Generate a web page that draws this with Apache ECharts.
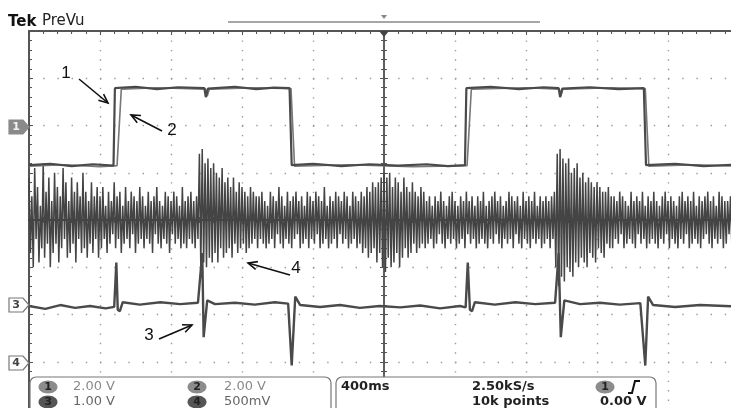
<!DOCTYPE html>
<html>
<head>
<meta charset="utf-8">
<script src="https://cdn.jsdelivr.net/npm/echarts@6/dist/echarts.min.js"></script>
<style>
html, body { margin: 0; padding: 0; background: #fff; }
#scope { width: 731px; height: 408px; }
</style>
</head>
<body>
<div id="scope"></div>
<script>
// screen is 10 x 8 divisions, x in divisions from centre (400ms/div), y in divisions
const timeDivs = [-5, 5]
const voltDivs = [-4, 4]

// channel 1: two captures, one with a sharp edge and one slower
const ch1Fast = [
  [-5.00, 1.16], [-4.70, 1.19], [-4.40, 1.14], [-4.10, 1.18], [-3.81, 1.15], [-3.79, 2.79],
  [-3.50, 2.82], [-3.20, 2.77], [-2.90, 2.81], [-2.53, 2.79], [-2.51, 2.60], [-2.48, 2.78],
  [-2.10, 2.82], [-1.80, 2.77], [-1.55, 2.80], [-1.33, 2.79], [-1.30, 1.16], [-1.00, 1.19],
  [-0.60, 1.14], [-0.20, 1.18], [0.20, 1.15], [0.60, 1.18], [0.90, 1.14], [1.14, 1.16],
  [1.16, 2.79], [1.50, 2.82], [1.90, 2.77], [2.25, 2.81], [2.46, 2.79], [2.48, 2.60],
  [2.51, 2.78], [2.90, 2.81], [3.30, 2.77], [3.66, 2.79], [3.69, 1.16], [4.10, 1.19],
  [4.50, 1.14], [4.96, 1.17]
]
const ch1Slow = [
  [-5.00, 1.14], [-4.50, 1.17], [-4.00, 1.13], [-3.76, 1.15], [-3.70, 2.77], [-3.20, 2.80],
  [-2.51, 2.77], [-2.49, 2.62], [-2.46, 2.77], [-1.80, 2.80], [-1.31, 2.78], [-1.26, 1.14],
  [-0.50, 1.17], [0.40, 1.13], [1.17, 1.15], [1.23, 2.77], [2.00, 2.80], [2.47, 2.77],
  [2.49, 2.62], [2.52, 2.77], [3.20, 2.80], [3.68, 2.78], [3.73, 1.14], [4.40, 1.17],
  [4.96, 1.14]
]
// channel 3
const ch3Trace = [
  [-5.00, -1.82], [-4.77, -1.88], [-4.56, -1.80], [-4.35, -1.86], [-4.14, -1.82], [-3.92, -1.87],
  [-3.80, -1.84], [-3.77, -0.90], [-3.75, -1.90], [-3.72, -1.93], [-3.68, -1.74], [-3.44, -1.79],
  [-3.15, -1.74], [-2.87, -1.78], [-2.62, -1.75], [-2.56, -0.70], [-2.54, -2.48], [-2.49, -1.70],
  [-2.38, -1.78], [-2.10, -1.75], [-1.82, -1.79], [-1.54, -1.74], [-1.35, -1.77], [-1.30, -3.08],
  [-1.25, -1.62], [-1.18, -1.80], [-0.90, -1.84], [-0.62, -1.80], [-0.34, -1.86], [-0.06, -1.82],
  [0.23, -1.85], [0.51, -1.81], [0.79, -1.87], [1.07, -1.82], [1.15, -1.85], [1.18, -0.90],
  [1.21, -1.90], [1.24, -1.93], [1.28, -1.74], [1.56, -1.79], [1.85, -1.74], [2.13, -1.78],
  [2.41, -1.75], [2.46, -0.70], [2.49, -2.48], [2.54, -1.70], [2.76, -1.78], [3.04, -1.75],
  [3.32, -1.79], [3.61, -1.76], [3.68, -3.08], [3.72, -1.62], [3.79, -1.80], [4.10, -1.84],
  [4.45, -1.80], [4.96, -1.83]
]
// channel 4 noise, one sample every 0.02 div starting at the left edge
const ch4Step = 0.02
const ch4Noise = [
  0.9, -0.7, 0.5, -1.0, 1.1, -0.4, 0.7, -0.9, 0.3, -0.6,
  1.2, -0.8, 0.6, -0.5, 0.9, -1.0, 0.4, -0.7, 1.0, -0.5,
  0.7, -0.9, 0.5, -0.6, 1.1, -0.4, 0.8, -0.8, 0.4, -0.7,
  0.9, -0.5, 0.6, -0.9, 0.8, -0.4, 0.5, -0.7, 1.0, -0.6,
  0.6, -0.8, 0.4, -0.5, 0.8, -0.7, 0.5, -0.4, 0.7, -0.8,
  0.5, -0.6, 0.7, -0.4, 0.3, -0.7, 0.6, -0.5, 0.4, -0.3,
  0.8, -0.6, 0.5, -0.4, 0.6, -0.7, 0.3, -0.5, 0.7, -0.4,
  0.4, -0.6, 0.6, -0.3, 0.5, -0.7, 0.4, -0.5, 0.7, -0.4,
  0.5, -0.6, 0.3, -0.4, 0.6, -0.5, 0.4, -0.7, 0.5, -0.3,
  0.7, -0.5, 0.4, -0.6, 0.3, -0.4, 0.6, -0.5, 0.5, -0.7,
  0.4, -0.3, 0.6, -0.5, 0.5, -0.4, 0.3, -0.6, 0.7, -0.5,
  0.4, -0.6, 0.5, -0.4, 0.6, -0.5, 0.4, -0.6, 0.5, -0.4,
  1.4, -1.0, 1.5, -0.9, 1.2, -1.0, 1.3, -0.8, 1.1, -0.9,
  1.2, -0.7, 1.0, -0.9, 0.9, -0.6, 1.1, -0.8, 0.8, -0.7,
  0.9, -0.6, 0.7, -0.8, 0.9, -0.5, 0.6, -0.7, 0.8, -0.6,
  0.7, -0.5, 0.6, -0.7, 0.5, -0.6, 0.7, -0.5, 0.6, -0.4,
  0.5, -0.6,
  0.5, -0.4, 0.6, -0.5, 0.4, -0.6, 0.3, -0.5, 0.6, -0.4,
  0.5, -0.6, 0.4, -0.3, 0.7, -0.5, 0.5, -0.6, 0.3, -0.4,
  0.6, -0.5, 0.4, -0.6, 0.5, -0.4, 0.6, -0.3, 0.4, -0.6,
  0.5, -0.5, 0.3, -0.4, 0.6, -0.6, 0.5, -0.4, 0.4, -0.5,
  0.6, -0.3, 0.5, -0.6, 0.4, -0.5, 0.7, -0.4, 0.3, -0.6,
  0.5, -0.5, 0.4, -0.4, 0.6, -0.6, 0.5, -0.3, 0.4, -0.5,
  0.6, -0.4, 0.5, -0.6, 0.3, -0.5, 0.6, -0.4, 0.5, -0.6,
  0.4, -0.5, 0.6, -0.7, 0.5, -0.6, 0.7, -0.8,
  0.6, -0.7, 0.8, -0.6, 0.7, -0.9, 0.8, -0.7, 0.9, -1.0,
  1.0, -1.1, 0.9, -0.8, 1.0, -1.0, 0.7, -0.9, 0.9, -0.7,
  0.8, -1.0, 0.6, -0.8, 0.9, -0.6, 0.7, -0.8, 0.6, -0.7,
  0.8, -0.5, 0.6, -0.7, 0.5, -0.6, 0.7, -0.5, 0.6, -0.6,
  0.4, -0.5,
  0.5, -0.4, 0.3, -0.6, 0.5, -0.5, 0.4, -0.3, 0.6, -0.5,
  0.4, -0.6, 0.3, -0.4, 0.5, -0.5, 0.6, -0.4, 0.4, -0.6,
  0.3, -0.5, 0.5, -0.4, 0.4, -0.6, 0.6, -0.3, 0.4, -0.5,
  0.5, -0.4, 0.3, -0.6, 0.5, -0.5, 0.4, -0.4, 0.6, -0.5,
  0.3, -0.6, 0.4, -0.4, 0.5, -0.5, 0.6, -0.3, 0.4, -0.5,
  0.5, -0.6, 0.3, -0.4, 0.4, -0.5, 0.6, -0.4, 0.5, -0.6,
  0.4, -0.3, 0.5, -0.5, 0.3, -0.6, 0.6, -0.4, 0.4, -0.5,
  0.5, -0.6, 0.4, -0.4, 0.6, -0.5, 0.3, -0.4, 0.5, -0.6,
  0.4, -0.5, 0.5, -0.4, 0.4, -0.6, 0.5, -0.4, 0.6,
  -1.0, 1.4, -1.4, 1.5, -1.2, 1.3, -1.3, 1.2, -1.0, 1.3,
  -1.1, 1.0, -1.2, 1.1, -0.9, 1.2, -1.0, 0.9, -0.8, 1.0,
  -0.9, 0.8, -1.0, 0.9, -0.7, 0.8, -0.8, 0.7, -0.9, 0.8,
  -0.6, 0.7, -0.7, 0.6, -0.8, 0.6, -0.5, 0.7, -0.6, 0.5,
  -0.6, 0.5, -0.4, 0.4, -0.5, 0.6, -0.3, 0.5, -0.6, 0.4,
  -0.5, 0.3, -0.4, 0.6, -0.5, 0.4, -0.6, 0.5, -0.3, 0.4,
  -0.5, 0.6, -0.4, 0.3, -0.6, 0.5, -0.5, 0.4, -0.4, 0.6,
  -0.5, 0.4, -0.6, 0.3, -0.4, 0.5, -0.5, 0.6, -0.3, 0.4,
  -0.6, 0.5, -0.4, 0.4, -0.5, 0.3, -0.6, 0.5, -0.4, 0.6,
  -0.5, 0.4, -0.3, 0.5, -0.6, 0.4, -0.5, 0.6, -0.4, 0.3,
  -0.5, 0.5, -0.6, 0.4, -0.4, 0.5, -0.3, 0.6, -0.5, 0.4,
  -0.6, 0.5, -0.4, 0.3, -0.5, 0.6, -0.4, 0.5, -0.6, 0.4,
  -0.5, 0.4, -0.3, 0.5, -0.6, 0.4, -0.5, 0.5, -0.4
]

// readouts
const channelNames = ['1', '2', '3', '4']
const channelScales = ['2.00 V', '2.00 V', '1.00 V', '500mV']
const timeBase = '400ms'
const sampleRate = '2.50kS/s'
const recordLength = '10k points'
const triggerLevel = '0.00 V'
const annotations = ['1', '2', '3', '4']

const chart = echarts.init(document.getElementById('scope'))

const ch4Data = ch4Noise.map((v, i) => [timeDivs[0] + i * ch4Step, v])

const dotsV = { color: '#9a9a9a', width: 1.4, type: [1.4, 8.05] }
const dotsH = { color: '#9a9a9a', width: 1.4, type: [1.4, 12.8] }
const FONT = '"DejaVu Sans", sans-serif'

const baseX = { type: 'value', min: timeDivs[0], max: timeDivs[1], interval: 1, axisLabel: { show: false } }
const baseY = { type: 'value', min: voltDivs[0], max: voltDivs[1], interval: 1, axisLabel: { show: false } }

const arrow = (x1, y1, x2, y2) => {
    const a = Math.atan2(y2 - y1, x2 - x1)
    const h = 10, s = 0.42
    return {
        type: 'group',
        children: [
            { type: 'line', z: 60, shape: { x1, y1, x2, y2 }, style: { stroke: '#111', lineWidth: 1.6 } },
            { type: 'polyline', z: 60, shape: { points: [
                [x2 - h * Math.cos(a - s), y2 - h * Math.sin(a - s)], [x2, y2],
                [x2 - h * Math.cos(a + s), y2 - h * Math.sin(a + s)]
            ] }, style: { stroke: '#111', lineWidth: 1.6, fill: null } }
        ]
    }
}
const label = (text, x, y) => ({
    type: 'text', x, y, z: 60,
    style: { text, font: '17px "Liberation Sans", Arial, sans-serif', fill: '#111', align: 'center', verticalAlign: 'middle' }
})
const chMarker = (name, y, filled) => ({
    type: 'group',
    children: [
        { type: 'polygon', z: 60, shape: { points: [[9, y - 7], [23, y - 7], [29, y], [23, y + 7], [9, y + 7]] },
          style: { fill: filled ? '#8a8a8a' : '#fff', stroke: filled ? '#8a8a8a' : '#777', lineWidth: 1.2 } },
        { type: 'text', z: 61, x: 16, y: y + 0.5, style: { text: name, font: 'bold 11px ' + FONT, fill: filled ? '#f2f2f2' : '#444', align: 'center', verticalAlign: 'middle' } }
    ]
})
const badge = (name, cx, cy, fill) => ({
    type: 'group',
    children: [
        { type: 'ellipse', z: 110, shape: { cx, cy, rx: 9.5, ry: 6.5 }, style: { fill } },
        { type: 'text', z: 111, x: cx, y: cy + 0.5, style: { text: name, font: 'bold 11px ' + FONT, fill: '#222', align: 'center', verticalAlign: 'middle' } }
    ]
})
const readout = (text, x, y, color, bold) => ({
    type: 'text', x, y, z: 110,
    style: { text, font: (bold ? 'bold ' : '') + '13px ' + FONT, fill: color, verticalAlign: 'middle' }
})

const option = {
    animation: false,
    backgroundColor: '#fff',
    grid: { left: 29, top: 31, width: 710, height: 378, outerBoundsMode: 'none' },
    xAxis: [
        // centre line, ticks up
        { ...baseX, axisLine: { onZero: true, lineStyle: { color: '#333', width: 1.5 } },
          axisTick: { show: true, inside: true, length: 4, lineStyle: { color: '#555' } },
          minorTick: { show: true, splitNumber: 5, length: 3, lineStyle: { color: '#555' } },
          splitLine: { show: true, lineStyle: dotsV } },
        // centre line, ticks down
        { ...baseX, position: 'bottom', axisLine: { onZero: true, lineStyle: { color: '#333', width: 1.5 } },
          axisTick: { show: true, inside: false, length: 4, lineStyle: { color: '#555' } },
          minorTick: { show: true, splitNumber: 5, length: 3, lineStyle: { color: '#555' } },
          splitLine: { show: false } },
        // top frame
        { ...baseX, position: 'top', axisLine: { onZero: false, lineStyle: { color: '#555', width: 2 } },
          axisTick: { show: true, inside: true, length: 4, lineStyle: { color: '#555' } },
          minorTick: { show: true, splitNumber: 5, length: 3, lineStyle: { color: '#555' } },
          splitLine: { show: false } }
    ],
    yAxis: [
        { ...baseY, axisLine: { onZero: true, lineStyle: { color: '#555', width: 1.5 } },
          axisTick: { show: true, inside: true, length: 4, lineStyle: { color: '#555' } },
          minorTick: { show: true, splitNumber: 5, length: 3, lineStyle: { color: '#555' } },
          splitLine: { show: true, lineStyle: dotsH } },
        { ...baseY, position: 'left', axisLine: { onZero: true, lineStyle: { color: '#555', width: 1.5 } },
          axisTick: { show: true, inside: false, length: 4, lineStyle: { color: '#555' } },
          minorTick: { show: true, splitNumber: 5, length: 3, lineStyle: { color: '#555' } },
          splitLine: { show: false } },
        // left frame
        { ...baseY, position: 'left', axisLine: { onZero: false, lineStyle: { color: '#555', width: 2 } },
          axisTick: { show: true, inside: true, length: 4, lineStyle: { color: '#555' } },
          minorTick: { show: true, splitNumber: 5, length: 3, lineStyle: { color: '#555' } },
          splitLine: { show: false } }
    ],
    series: [
        { name: 'CH4', type: 'line', data: ch4Data, symbol: 'none', z: 2,
          lineStyle: { color: '#444', width: 1.5 } },
        { name: 'CH3', type: 'line', data: ch3Trace, symbol: 'none', z: 3,
          lineStyle: { color: '#4a4a4a', width: 2.4 } },
        { name: 'CH1b', type: 'line', data: ch1Slow, symbol: 'none', z: 3,
          lineStyle: { color: '#777', width: 1.6 } },
        { name: 'CH1', type: 'line', data: ch1Fast, symbol: 'none', z: 4,
          lineStyle: { color: '#4a4a4a', width: 2.2 } }
    ],
    graphic: [
        { type: 'text', x: 8, y: 15, z: 60, style: { text: 'Tek', font: 'bold 15px ' + FONT, fill: '#111' } },
        { type: 'text', x: 42, y: 14, z: 60, style: { text: 'PreVu', font: '15px ' + FONT, fill: '#222' } },
        { type: 'line', z: 60, shape: { x1: 228, y1: 22, x2: 540, y2: 22 }, style: { stroke: '#888', lineWidth: 1.5 } },
        { type: 'polygon', z: 60, shape: { points: [[381, 15], [387, 15], [384, 19]] }, style: { fill: '#888' } },
        { type: 'polygon', z: 60, shape: { points: [[379, 31], [389, 31], [384, 37]] }, style: { fill: '#444' } },

        chMarker(channelNames[0], 127, true),
        chMarker(channelNames[2], 305, false),
        chMarker(channelNames[3], 363, false),

        label(annotations[0], 66, 73), arrow(79, 79, 108, 103),
        label(annotations[1], 172, 130), arrow(162, 131, 131, 115),
        label(annotations[2], 149, 335), arrow(159, 339, 192, 325),
        label(annotations[3], 296, 268), arrow(290, 275, 248, 263),

        // readout boxes
        { type: 'rect', z: 100, shape: { x: 30, y: 377, width: 301, height: 50, r: [6, 6, 0, 0] },
          style: { fill: '#fff', stroke: '#777', lineWidth: 1.2 } },
        { type: 'rect', z: 100, shape: { x: 336, y: 377, width: 320, height: 50, r: [6, 6, 0, 0] },
          style: { fill: '#fff', stroke: '#777', lineWidth: 1.2 } },
        badge(channelNames[0], 48, 387, '#8c8c8c'),
        readout(channelScales[0], 73, 387, '#8a8a8a'),
        badge(channelNames[2], 48, 402, '#555'),
        readout(channelScales[2], 73, 402, '#666'),
        badge(channelNames[1], 197, 387, '#8c8c8c'),
        readout(channelScales[1], 224, 387, '#8a8a8a'),
        badge(channelNames[3], 197, 402, '#555'),
        readout(channelScales[3], 224, 402, '#666'),
        readout(timeBase, 341, 387, '#222', true),
        readout(sampleRate, 472, 387, '#222', true),
        readout(recordLength, 472, 402, '#222', true),
        badge(channelNames[0], 605, 387, '#8c8c8c'),
        { type: 'polyline', z: 110, shape: { points: [[628, 393], [632, 393], [635, 381], [640, 381]] },
          style: { stroke: '#111', lineWidth: 2, fill: null } },
        readout(triggerLevel, 600, 402, '#222', true)
    ]
}
chart.setOption(option)
</script>
</body>
</html>
